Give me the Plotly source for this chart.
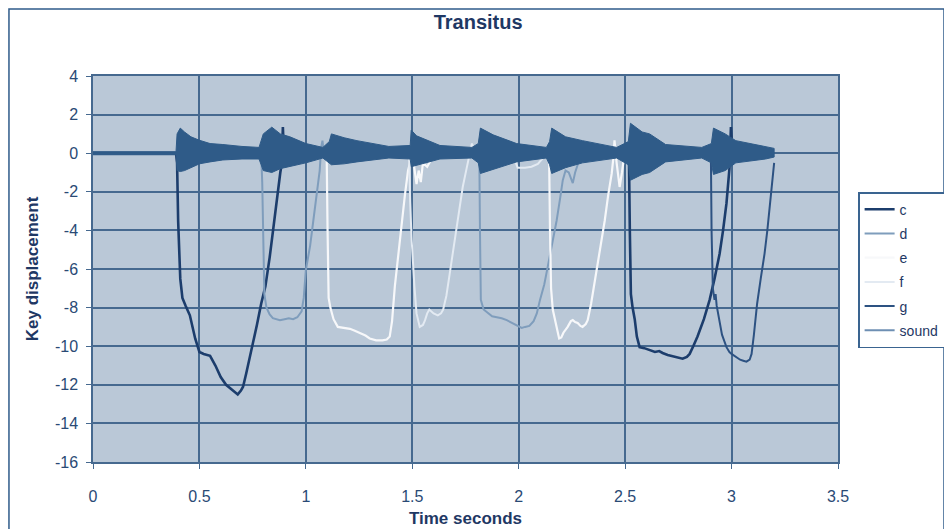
import plotly.graph_objects as go

# ---------------- data ----------------
c_t = [0.0, 0.39, 0.395, 0.40, 0.41, 0.42, 0.435, 0.455, 0.48, 0.50, 0.52, 0.55, 0.575, 0.60,
       0.625, 0.645, 0.665, 0.68, 0.695, 0.705, 0.72, 0.735, 0.75, 0.77, 0.79, 0.81, 0.83, 0.845,
       0.86, 0.87, 0.88, 0.887, 0.892, 0.896, 0.95,
       2.50, 2.518, 2.522, 2.527, 2.535, 2.545, 2.555, 2.568, 2.59, 2.615, 2.64, 2.66, 2.676, 2.70,
       2.72, 2.742, 2.77, 2.79, 2.803, 2.82, 2.84, 2.87, 2.897, 2.92, 2.944, 2.96, 2.976, 2.99,
       2.997, 3.003, 3.05]
c_y = [0.0, 0.0, -0.5, -3.5, -6.5, -7.5, -7.9, -8.4, -9.6, -10.3, -10.4, -10.5, -11.0, -11.6,
       -12.0, -12.2, -12.4, -12.5, -12.3, -12.1, -11.4, -10.7, -10.0, -8.9, -7.8, -6.9, -5.4, -4.0,
       -2.7, -1.8, -1.0, -0.5, 1.35, 0.2, 0.0,
       0.0, -0.3, -4.0, -7.3, -8.0, -8.6, -9.5, -10.05, -10.1, -10.2, -10.3, -10.25, -10.35, -10.45,
       -10.5, -10.55, -10.65, -10.55, -10.4, -10.0, -9.5, -8.6, -7.6, -6.5, -5.2, -4.0, -2.6, -0.8,
       1.35, 0.2, 0.0]

d_t = [0.70, 0.79, 0.795, 0.80, 0.805, 0.815, 0.83, 0.845, 0.86, 0.878, 0.90, 0.92, 0.94, 0.96,
       0.98, 0.99, 1.0, 1.02, 1.035, 1.05, 1.065, 1.072, 1.078, 1.088, 1.10,
       1.80, 1.815, 1.818, 1.822, 1.835, 1.855, 1.875, 1.897, 1.92, 1.944, 1.97, 1.99, 2.014, 2.03,
       2.05, 2.07, 2.085, 2.10, 2.12, 2.136, 2.16, 2.178, 2.195, 2.207, 2.22, 2.235, 2.254, 2.265,
       2.277, 2.30]
d_y = [0.0, 0.0, -1.5, -5.0, -7.3, -8.0, -8.35, -8.55, -8.6, -8.65, -8.6, -8.55, -8.6, -8.5,
       -8.2, -7.5, -6.05, -4.8, -3.5, -2.2, -0.9, 0.3, 0.65, -0.3, 0.0,
       0.0, -0.3, -4.0, -7.6, -8.1, -8.3, -8.45, -8.5, -8.55, -8.65, -8.8, -8.9, -9.05, -9.0,
       -8.95, -8.7, -8.3, -7.6, -6.8, -5.9, -4.6, -3.5, -2.3, -1.4, -0.9, -1.0, -1.55, -1.0,
       -0.6, 0.0]

e_t = [1.09, 1.098, 1.102, 1.107, 1.115, 1.13, 1.15, 1.18, 1.207, 1.23, 1.254, 1.28, 1.30, 1.33,
       1.36, 1.38, 1.394, 1.405, 1.418, 1.435, 1.45, 1.465, 1.48, 1.497, 1.505, 1.52, 1.53, 1.54,
       1.55, 1.57, 1.59, 1.60,
       2.13, 2.143, 2.147, 2.152, 2.16, 2.17, 2.178, 2.19, 2.20, 2.21, 2.23, 2.245, 2.254, 2.265,
       2.277, 2.29, 2.30, 2.315, 2.324, 2.34, 2.366, 2.385, 2.404, 2.42, 2.437, 2.445, 2.45, 2.46,
       2.474, 2.485, 2.495, 2.507, 2.515, 2.53]
e_y = [0.0, -0.3, -4.0, -7.5, -8.0, -8.6, -9.0, -9.05, -9.1, -9.2, -9.3, -9.45, -9.6, -9.7,
       -9.7, -9.65, -9.5, -8.7, -6.9, -5.1, -3.5, -2.2, -0.9, -0.2, -0.4, -1.6, -0.9, -1.5,
       -0.5, -0.7, -0.3, 0.0,
       0.0, -0.3, -4.0, -7.0, -8.1, -8.7, -9.0, -9.6, -9.55, -9.3, -9.0, -8.7, -8.65, -8.75,
       -8.8, -8.95, -9.0, -8.85, -8.65, -7.8, -6.05, -4.8, -3.5, -2.2, -1.05, -0.2, 0.67, -0.5,
       -1.75, -1.0, -0.2, 0.3, -0.3, 0.0]

f_t = [1.47, 1.485, 1.49, 1.497, 1.51, 1.52, 1.535, 1.55, 1.56, 1.57, 1.58, 1.60, 1.62, 1.635,
       1.645, 1.66, 1.675, 1.69, 1.71, 1.725, 1.737, 1.755, 1.77, 1.78, 1.79, 1.80,
       1.97, 1.985, 1.995, 2.03, 2.06, 2.09, 2.11, 2.12]
f_y = [0.0, -0.2, -2.5, -4.5, -6.9, -8.3, -9.0, -8.9, -8.65, -8.3, -8.1, -8.3, -8.4, -8.3,
       -8.1, -7.4, -6.3, -5.2, -3.7, -2.6, -1.75, -0.8, 0.1, 0.5, 0.2, 0.0,
       0.0, -0.5, -0.75, -0.75, -0.7, -0.55, -0.3, 0.0]

g_t = [2.89, 2.903, 2.906, 2.912, 2.92, 2.925, 2.93, 2.94, 2.955, 2.976, 2.99, 3.0, 3.02, 3.04,
       3.055, 3.07, 3.085, 3.094, 3.105, 3.12, 3.137, 3.155, 3.168, 3.18, 3.19, 3.2]
g_y = [0.0, -0.3, -4.0, -7.0, -7.6, -7.3, -7.9, -8.6, -9.4, -10.05, -10.3, -10.4, -10.55, -10.7,
       -10.75, -10.8, -10.7, -10.4, -9.4, -7.8, -6.5, -5.2, -4.0, -2.6, -1.5, -0.5]

# sound: envelope of the recorded waveform (upper / lower extent)
sound_t = [0.00, 0.39, 0.395, 0.41, 0.43, 0.46, 0.50, 0.55, 0.61, 0.70, 0.78, 0.79, 0.80, 0.84,
           0.88, 0.925, 1.00, 1.08, 1.11, 1.12, 1.18, 1.24, 1.39, 1.49, 1.495, 1.52, 1.63, 1.78,
           1.81, 1.82, 1.88, 1.99, 2.13, 2.145, 2.155, 2.22, 2.30, 2.46, 2.515, 2.525, 2.58, 2.615,
           2.69, 2.86, 2.905, 2.915, 2.97, 3.02, 3.16, 3.20]
sound_up = [0.08, 0.08, 1.0, 1.3, 1.1, 0.85, 0.67, 0.5, 0.45, 0.35, 0.3, 0.6, 1.0, 1.35,
            1.0, 0.85, 0.5, 0.3, 0.6, 1.0, 0.8, 0.65, 0.35, 0.4, 1.2, 0.9, 0.4, 0.3,
            0.5, 1.3, 0.95, 0.5, 0.3, 0.6, 1.3, 0.85, 0.65, 0.3, 0.6, 1.55, 1.1, 1.0,
            0.45, 0.3, 0.5, 1.3, 1.0, 0.65, 0.35, 0.25]
sound_lo = [-0.08, -0.08, -0.9, -0.95, -0.9, -0.75, -0.55, -0.45, -0.35, -0.3, -0.3, -0.6, -0.9, -1.0,
            -0.8, -0.7, -0.5, -0.25, -0.5, -0.6, -0.55, -0.45, -0.25, -0.3, -0.7, -0.6, -0.3, -0.25,
            -0.5, -1.05, -0.85, -0.45, -0.25, -0.6, -1.05, -0.75, -0.5, -0.25, -0.6, -1.4, -1.1, -1.0,
            -0.45, -0.25, -0.5, -1.1, -0.9, -0.5, -0.3, -0.2]

x_ticks = [0, 0.5, 1, 1.5, 2, 2.5, 3, 3.5]
x_labels = ["0", "0.5", "1", "1.5", "2", "2.5", "3", "3.5"]
y_ticks = [4, 2, 0, -2, -4, -6, -8, -10, -12, -14, -16]
y_labels = ["4", "2", "0", "-2", "-4", "-6", "-8", "-10", "-12", "-14", "-16"]

# ---------------- styling ----------------
NAVY = "#1F3864"
TICKC = "#2A4A75"
GRID = "#46698F"
BG = "#BAC8D7"
FONT = "Liberation Sans, Arial, sans-serif"

series = [
    ("c", c_t, c_y, "#1C3D6C", 2.6),
    ("d", d_t, d_y, "#7F9DBC", 2.0),
    ("e", e_t, e_y, "#F7F8FA", 2.2),
    ("f", f_t, f_y, "#E3EAF2", 2.0),
    ("g", g_t, g_y, "#2D5282", 2.0),
]
SOUND = "#2F5B88"

fig = go.Figure()
for name, t, y, col, w in series:
    fig.add_trace(go.Scatter(x=t, y=y, mode="lines", name=name, legendgroup=name,
                             line=dict(color=col, width=w), hoverinfo="skip"))

# sound band as a filled polygon built from the envelope arrays
poly_x = sound_t + sound_t[::-1]
poly_y = sound_up + sound_lo[::-1]
fig.add_trace(go.Scatter(x=poly_x, y=poly_y, mode="lines", fill="toself",
                         fillcolor=SOUND, line=dict(color=SOUND, width=1),
                         showlegend=False, hoverinfo="skip"))
fig.add_trace(go.Scatter(x=[None], y=[None], mode="lines", name="sound", legendgroup="sound",
                         line=dict(color="#6E8FB3", width=2)))

# the page adds an 8px body margin, so the figure is 8px smaller and shifted
fig.update_layout(
    width=944, height=521,
    margin=dict(l=85, r=114, t=68, b=67, autoexpand=False),
    paper_bgcolor="white", plot_bgcolor=BG,
    font=dict(family=FONT, color=NAVY, size=14),
    title=dict(text="<b>Transitus</b>", x=0.498, xanchor="center", y=0.973, yanchor="middle",
               font=dict(size=20, color=NAVY, family=FONT)),
    legend=dict(x=1.027, y=0.699, xanchor="left", yanchor="top",
                bgcolor="white", bordercolor="#3A6490", borderwidth=1.5,
                font=dict(size=14, color=NAVY, family=FONT),
                tracegroupgap=3, itemwidth=30),
    showlegend=True,
)
fig.update_xaxes(range=[0, 3.5], tickmode="array", tickvals=x_ticks, ticktext=x_labels,
                 automargin=False,
                 showgrid=True, gridcolor=GRID, gridwidth=1.5, zeroline=False,
                 showline=True, linecolor=GRID, linewidth=1.5, mirror=True,
                 ticks="outside", ticklen=5, tickcolor=GRID, ticklabelstandoff=14,
                 tickfont=dict(size=16, color=TICKC),
                 title=dict(text="<b>Time seconds</b>", font=dict(size=17, color=NAVY), standoff=8))
fig.update_yaxes(range=[-16, 4], tickmode="array", tickvals=y_ticks, ticktext=y_labels,
                 automargin=False,
                 showgrid=True, gridcolor=GRID, gridwidth=1.5, zeroline=False,
                 showline=True, linecolor=GRID, linewidth=1.5, mirror=True,
                 ticks="outside", ticklen=5, tickcolor=GRID, ticklabelstandoff=5,
                 tickfont=dict(size=16, color=TICKC),
                 title=dict(text="<b>Key displacement</b>", font=dict(size=17, color=NAVY), standoff=12))

# outer chart border
fig.add_shape(type="rect", xref="paper", yref="paper", x0=-0.1128, x1=1.1423, y0=-0.2, y1=1.1736,
              line=dict(color="#2F5B8A", width=1.5), fillcolor="rgba(0,0,0,0)", layer="below")

fig.write_html("out.html")
